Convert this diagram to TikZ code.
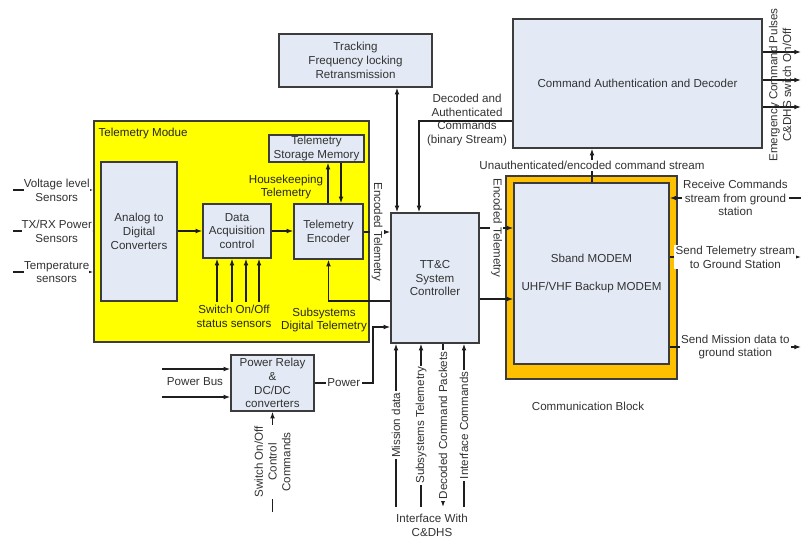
\documentclass[tikz,border=0pt]{standalone}
\usepackage{fontspec}
\setmainfont{Liberation Sans}
\usetikzlibrary{arrows.meta}
\definecolor{boxfill}{RGB}{228,234,245}
\definecolor{tmyellow}{RGB}{255,255,0}
\definecolor{orng}{RGB}{255,192,0}
\definecolor{txt}{RGB}{50,50,50}
\definecolor{edge}{RGB}{60,60,60}
\definecolor{wire}{RGB}{30,30,30}
\begin{document}
\begin{tikzpicture}[x=0.75pt,y=-0.75pt,
  font=\fontsize{8.7}{10.3}\selectfont, text=txt,
  >={Latex[length=5pt,width=3.6pt]},
  blk/.style={draw=edge, line width=1.1pt, fill=boxfill, align=center, inner sep=0pt},
  wire/.style={draw=wire, line width=0.9pt},
  lbl/.style={align=center, inner sep=1pt},
  wlbl/.style={lbl, fill=white},
]
\useasboundingbox (0,0) rectangle (802,537);
% boxes
\node[blk, fill=tmyellow, minimum width=206.25pt, minimum height=165.75pt] (tmod) at (231.5,231.5) {};
\node[lbl, anchor=west, text=black!85] (tmodlbl) at (97,133) {Telemetry Modue};
\node[blk, minimum width=57pt, minimum height=104.25pt] (adc) at (139,231.5) {Analog to\\Digital\\Converters};
\node[blk, minimum width=51pt, minimum height=40.5pt] (daq) at (237,231) {Data\\Acquisition\\control};
\node[blk, minimum width=51.75pt, minimum height=41.25pt] (enc) at (328.5,231.5) {Telemetry\\Encoder};
\node[blk, minimum width=71.25pt, minimum height=20.25pt] (mem) at (316.5,148.5) {Telemetry\\Storage Memory};
\node[blk, minimum width=66pt, minimum height=97.5pt] (ttc) at (435,278) {TT\&C\\System\\Controller};
\node[blk, minimum width=114.75pt, minimum height=39.75pt] (trk) at (355.5,60.5) {Tracking\\Frequency locking\\Retransmission};
\node[blk, minimum width=186.75pt, minimum height=96.75pt] (cmd) at (637.5,83.5) {Command Authentication and Decoder};
\node[blk, fill=orng, minimum width=128.25pt, minimum height=152.25pt] (comm) at (591.5,277.5) {};
\node[blk, minimum width=116.25pt, minimum height=135.75pt] (modem) at (591.5,273.5) {Sband MODEM\\[10.5pt]UHF/VHF Backup MODEM};
\node[blk, minimum width=62.25pt, minimum height=42pt] (relay) at (272.5,383) {Power Relay\\\&\\DC/DC\\converters};
% free text
\node[lbl, text=black!85] (hk) at (286,187) {Housekeeping\\Telemetry};
\node[lbl, text=black!85] (sss) at (234,316) {Switch On/Off\\status sensors};
\node[lbl, text=black!85] (sdt) at (324,320) {Subsystems\\Digital Telemetry};
\node[lbl] (dac) at (467,120) {Decoded and\\Authenticated\\Commands\\(binary Stream)};
\node[lbl] (cb) at (588,406) {Communication Block};
\node[lbl] (pbus) at (195,382) {Power Bus};
\node[lbl] (iw) at (432,525) {Interface With\\C\&DHS};
% helper coordinates
\coordinate (s1) at (13,190);
\coordinate (s2) at (13,231);
\coordinate (s3) at (13,272);
\coordinate (y231) at (0,231);
\coordinate (x328) at (328,0);
\coordinate (x341) at (341,0);
\coordinate (ss1) at (217,302);
\coordinate (ss2) at (232,302);
\coordinate (ss3) at (246,302);
\coordinate (ss4) at (259,302);
\coordinate (y301) at (0,301);
\coordinate (y232) at (0,232);
\coordinate (x397) at (397,0);
\coordinate (x419) at (419,0);
\coordinate (y121) at (0,121);
\coordinate (x592) at (592,0);
\coordinate (y228) at (0,228);
\coordinate (y299) at (0,299);
\coordinate (e1) at (801,52);
\coordinate (e2) at (801,80);
\coordinate (e3) at (801,107);
\coordinate (g1) at (801,198);
\coordinate (g2) at (801,257);
\coordinate (g3) at (801,347);
\coordinate (pb1) at (162,369);
\coordinate (pb2) at (162,397);
\coordinate (pw) at (373,383);
\coordinate (y327) at (0,327);
\coordinate (swc) at (272.5,512);
\coordinate (md) at (396,507);
\coordinate (st) at (421,507);
\coordinate (dc) at (443,507);
\coordinate (ic) at (464,507);
% sensors
\draw[wire,->] (s1) -- (tmod.west |- s1) node[wlbl, inner sep=0pt, pos=0.545] {Voltage level\\Sensors};
\draw[wire,->] (s2) -- (tmod.west |- s2) node[wlbl, inner sep=0pt, pos=0.545] {TX/RX Power\\Sensors};
\draw[wire,->] (s3) -- (tmod.west |- s3) node[wlbl, inner sep=0pt, pos=0.545] {Temperature\\sensors};
% telemetry chain
\draw[wire,->] (adc.east |- y231) -- (daq.west |- y231);
\draw[wire,->] (daq.east |- y231) -- (enc.west |- y231);
\draw[wire,->] (enc.north -| x328) -- (mem.south -| x328);
\draw[wire,->] (mem.south -| x341) -- (enc.north -| x341);
\foreach \c in {ss1,ss2,ss3,ss4} \draw[wire,->] (\c) -- (daq.south -| \c);
\draw[wire,->] (ttc.west |- y301) -| (enc.south);
\draw[wire,->] (enc.east |- y232) -- (ttc.west |- y232) node[wlbl, rotate=-90, midway] {Encoded Telemetry};
% top
\draw[wire,<->] (trk.south -| x397) -- (ttc.north -| x397);
\draw[wire,->] (cmd.west |- y121) -| (ttc.north -| x419);
\draw[wire,->] (modem.north -| x592) -- (cmd.south -| x592) node[wlbl, midway] {Unauthenticated/encoded command stream};
% TT&C to modem
\draw[wire,->] (ttc.east |- y228) -- (modem.west |- y228) node[wlbl, rotate=-90, midway] {Encoded Telemetry};
\draw[wire,->] (ttc.east |- y299) -- (modem.west |- y299);
% emergency outputs
\draw[wire,->] (cmd.east |- e1) -- (e1);
\draw[wire,->] (cmd.east |- e2) -- (e2);
\draw[wire,->] (cmd.east |- e3) -- (e3);
\node[lbl, rotate=90] (emg) at (780,85) {Emergency Command Pulses\\C\&DHS switch On/Off};
% ground links
\draw[wire,->] (g1) -- (modem.east |- g1) node[wlbl, midway] {Receive Commands\\stream from ground\\station};
\draw[wire,->] (modem.east |- g2) -- (g2) node[wlbl, midway] {Send Telemetry stream\\to Ground Station};
\draw[wire,->] (modem.east |- g3) -- (g3) node[wlbl, midway] {Send Mission data to\\ground station};
% power
\draw[wire,->] (pb1) -- (relay.west |- pb1);
\draw[wire,->] (pb2) -- (relay.west |- pb2);
\draw[wire,->] (relay.east) -- (pw) node[wlbl, midway] {Power} |- (ttc.west |- y327);
\draw[wire,->] (swc) -- (relay.south) node[wlbl, rotate=90, midway] {Switch On/Off\\Control\\Commands};
% interface with C&DHS
\draw[wire,->] (md) -- (ttc.south -| md) node[wlbl, rotate=90, midway] {Mission data};
\draw[wire,->] (st) -- (ttc.south -| st) node[wlbl, rotate=90, midway] {Subsystems Telemetry};
\draw[wire,->] (ttc.south -| dc) -- (dc) node[wlbl, rotate=90, midway] {Decoded Command Packets};
\draw[wire,->] (ic) -- (ttc.south -| ic) node[wlbl, rotate=90, midway] {Interface Commands};
\end{tikzpicture}
\end{document}
